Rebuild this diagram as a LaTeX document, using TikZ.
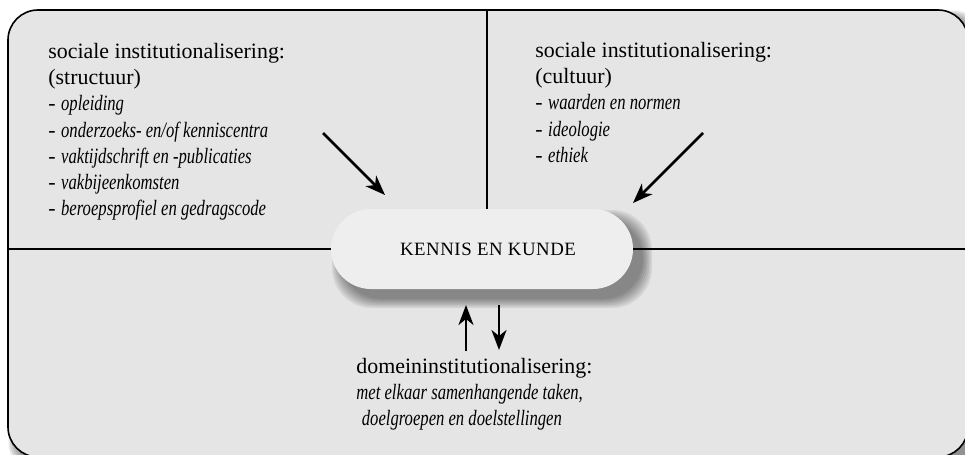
\documentclass[tikz,border=0pt]{standalone}
\usepackage{fontspec}
\setmainfont{Liberation Serif}[ItalicFeatures={FakeStretch=0.76}]
\usetikzlibrary{arrows.meta,calc}
\definecolor{boxgray}{HTML}{E5E5E5}
\definecolor{pilgray}{HTML}{EEEEEE}
\newcommand{\blokfont}{\fontsize{10.95}{13.1}\selectfont}
\newcommand{\pilfont}{\fontsize{9.4}{12}\selectfont\addfontfeature{LetterSpace=3}}
\tikzset{
  blok/.style={anchor=north west, align=left, inner sep=0pt, font=\blokfont},
  pil/.style={fill=pilgray, rounded corners=20pt, minimum width=151pt, minimum height=40pt, inner sep=0pt, font=\pilfont},
  pijl/.style={line width=1.3pt, -{Stealth[length=10pt,width=7.5pt,inset=3pt]}},
  lijn/.style={line width=0.55pt}
}
\begin{document}
\begin{tikzpicture}[x=0.5pt,y=-0.5pt]
              \useasboundingbox (0,0) rectangle (965,455);
              \clip (0,0) rectangle (965,455);
              \foreach \k in {0,...,5}
                \fill[black, opacity=0.09, rounded corners=15pt] (8+8-\k*1.5,10+8-\k*1.5) rectangle (968+8+\k*1.5,457+8+\k*1.5);
              \fill[boxgray, rounded corners=15pt] (8,10) rectangle (968,457);
              \draw[line width=0.8pt, rounded corners=15pt] (8,10) rectangle (968,457);
              \foreach \k in {0,...,6}
                \fill[black, opacity=0.07, rounded corners=20pt] (331+10-\k*1.5,209+10-\k*1.5) rectangle (633+10+\k*1.5,289+10+\k*1.5);
              \node[pil] (kennis) at (482,249) {\hspace*{6pt}KENNIS EN KUNDE};
              \draw[lijn] (8,249) -- (kennis.west);
              \draw[lijn] (kennis.east) -- (968,249);
              \draw[lijn] (487,10) -- (kennis.north -| 487,0);
              \node[blok] (structuur) at (48,43) {sociale institutionalisering:\\
                (structuur)\\
                - \textit{opleiding}\\
                - \textit{onderzoeks- en/of kenniscentra}\\
                - \textit{vaktijdschrift en -publicaties}\\
                - \textit{vakbijeenkomsten}\\
                - \textit{beroepsprofiel en gedragscode}};
              \node[blok] (cultuur) at (535,42) {sociale institutionalisering:\\
                (cultuur)\\
                - \textit{waarden en normen}\\
                - \textit{ideologie}\\
                - \textit{ethiek}};
              \node[blok] (domein) at (356,358) {domeininstitutionalisering:\\
                \textit{met elkaar samenhangende taken,}\\
                \ \textit{doelgroepen en doelstellingen}};
              \coordinate (links) at (323,133);
              \coordinate (linkspunt) at (385,195);
              \coordinate (rechts) at (703,133);
              \coordinate (rechtspunt) at (633,203);
              \draw[pijl] (links) -- (linkspunt);
              \draw[pijl] (rechts) -- (rechtspunt);
              \draw[pijl] ($(domein.north -| 466,0)+(0,-7)$) -- (466,305);
              \draw[pijl] (499,305) -- ($(domein.north -| 499,0)+(0,-8)$);
            \end{tikzpicture}
\end{document}
